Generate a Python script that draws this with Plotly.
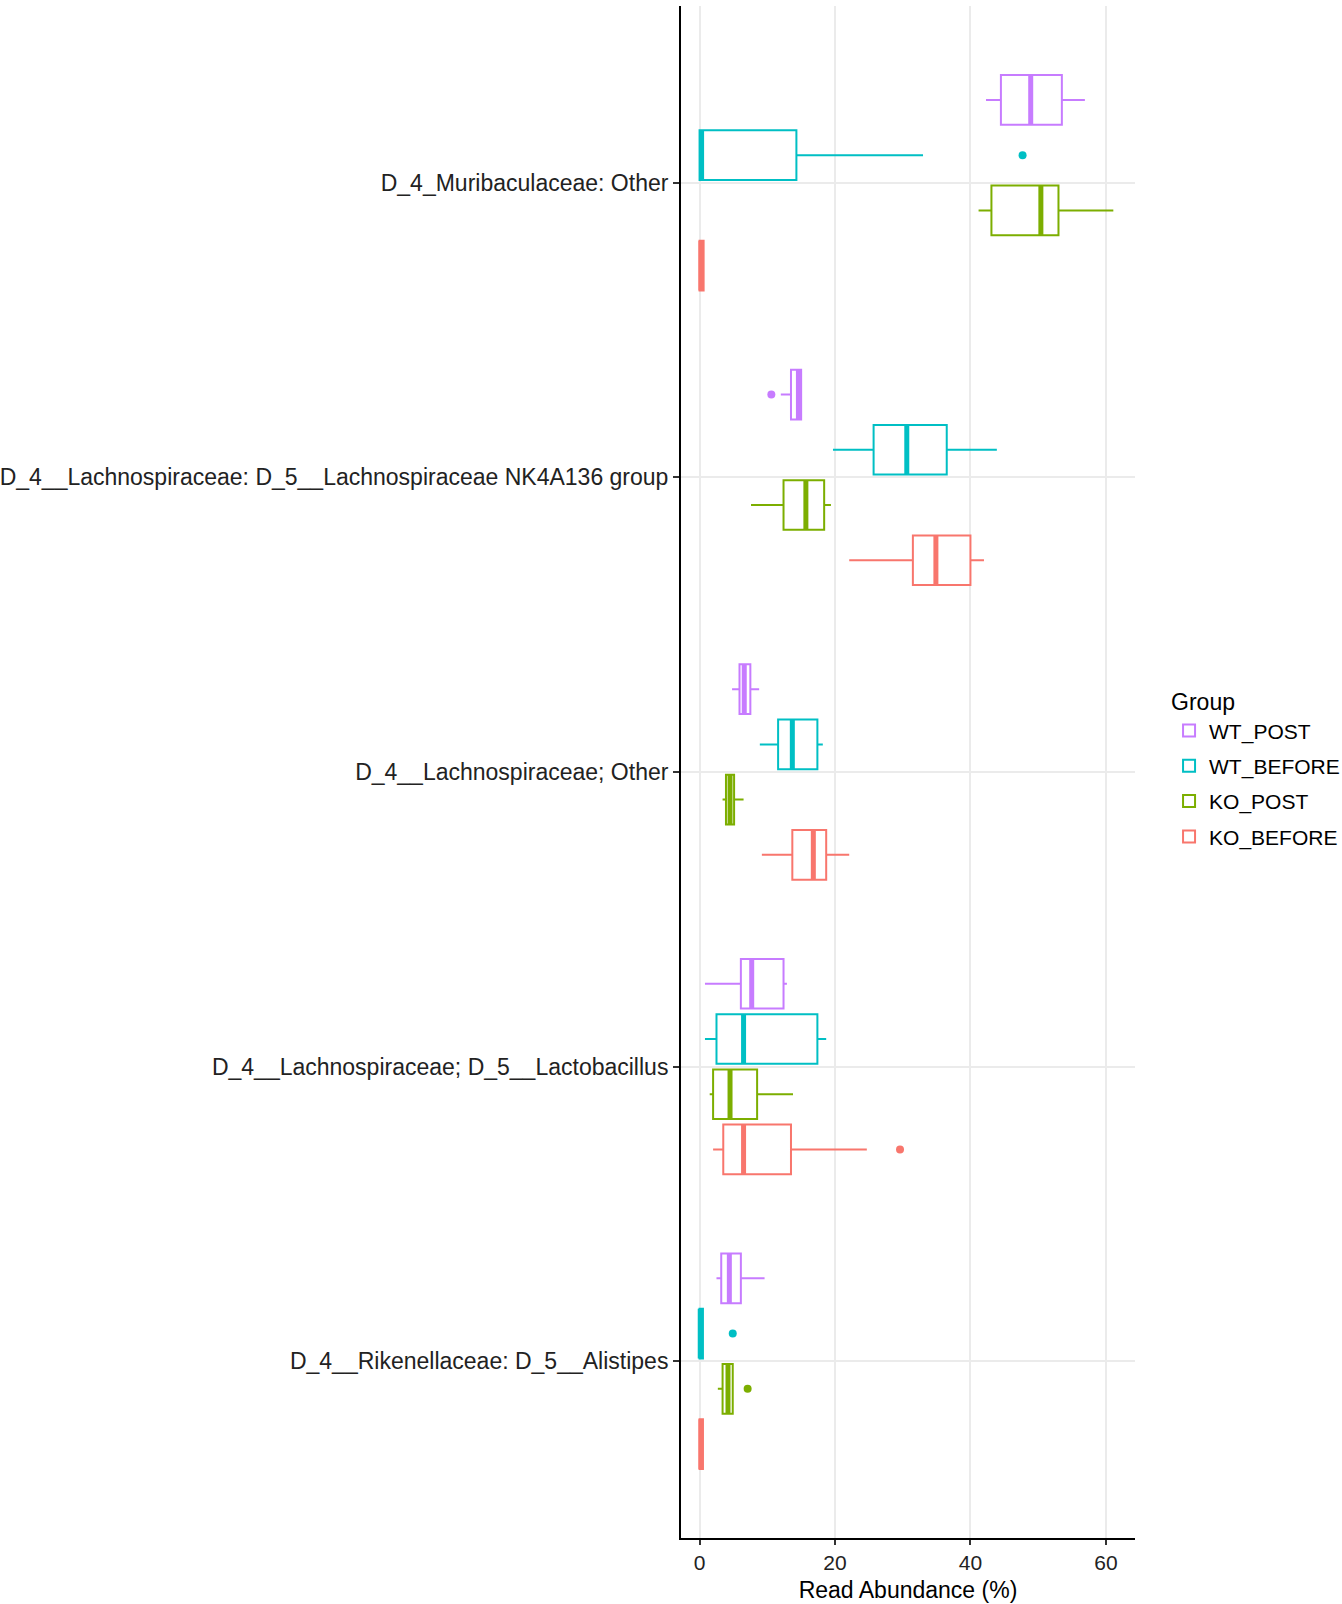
import plotly.graph_objects as go

categories = [
    "D_4_Muribaculaceae: Other",
    "D_4__Lachnospiraceae: D_5__Lachnospiraceae NK4A136 group",
    "D_4__Lachnospiraceae; Other",
    "D_4__Lachnospiraceae; D_5__Lactobacillus",
    "D_4__Rikenellaceae: D_5__Alistipes",
]
groups = ["WT_POST", "WT_BEFORE", "KO_POST", "KO_BEFORE"]
colors = ["#C77CFF", "#00BFC4", "#7CAE00", "#F8766D"]

# per-group statistics, in category order
wt_post_low = [42.3, 12.0, 4.8, 0.8, 2.5]
wt_post_q1 = [44.5, 13.5, 5.9, 6.1, 3.2]
wt_post_med = [48.9, 14.6, 6.6, 7.7, 4.4]
wt_post_q3 = [53.5, 15.0, 7.5, 12.4, 6.1]
wt_post_high = [56.9, 15.0, 8.8, 12.9, 9.6]
wt_post_out = [(1, 10.6)]

wt_before_low = [0.0, 19.7, 8.9, 0.8, 0.0]
wt_before_q1 = [0.0, 25.7, 11.6, 2.5, 0.0]
wt_before_med = [0.3, 30.6, 13.7, 6.5, 0.1]
wt_before_q3 = [14.3, 36.5, 17.4, 17.4, 0.5]
wt_before_high = [33.0, 43.9, 18.2, 18.7, 0.5]
wt_before_out = [(0, 47.7), (4, 4.9)]

ko_post_low = [41.2, 7.6, 3.4, 1.5, 2.7]
ko_post_q1 = [43.1, 12.4, 3.9, 2.0, 3.4]
ko_post_med = [50.4, 15.7, 4.5, 4.5, 4.2]
ko_post_q3 = [53.0, 18.4, 5.1, 8.5, 4.9]
ko_post_high = [61.1, 19.4, 6.5, 13.8, 4.9]
ko_post_out = [(4, 7.1)]

ko_before_low = [0.0, 22.1, 9.2, 2.0, 0.0]
ko_before_q1 = [0.0, 31.5, 13.7, 3.5, 0.0]
ko_before_med = [0.2, 34.9, 16.8, 6.5, 0.2]
ko_before_q3 = [0.6, 40.0, 18.7, 13.5, 0.5]
ko_before_high = [0.6, 42.0, 22.1, 24.7, 0.5]
ko_before_out = [(3, 29.6)]

stats = [
    (wt_post_low, wt_post_q1, wt_post_med, wt_post_q3, wt_post_high, wt_post_out),
    (wt_before_low, wt_before_q1, wt_before_med, wt_before_q3, wt_before_high, wt_before_out),
    (ko_post_low, ko_post_q1, ko_post_med, ko_post_q3, ko_post_high, ko_post_out),
    (ko_before_low, ko_before_q1, ko_before_med, ko_before_q3, ko_before_high, ko_before_out),
]

n_cat = len(categories)
cat_pos = [n_cat - i for i in range(n_cat)]  # top category highest
dodge = 0.75 / len(groups)
box_w = dodge * 0.9
offsets = [(1.5 - g) * dodge for g in range(len(groups))]

FONT = "Liberation Sans, Arial, sans-serif"
fig = go.Figure()

for g, (name, col, st) in enumerate(zip(groups, colors, stats)):
    low, q1, med, q3, high, outs = st
    pos = [p + offsets[g] for p in cat_pos]
    fig.add_trace(go.Box(
        name=name, orientation="h", y=pos,
        q1=q1, median=med, q3=q3, lowerfence=low, upperfence=high,
        width=box_w, whiskerwidth=0, boxpoints=False,
        line=dict(color=col, width=2), fillcolor="white",
        legendgroup=name, hoverinfo="skip",
    ))
    # thick median
    mx, my = [], []
    for p, m in zip(pos, med):
        mx += [m, m, None]
        my += [p - box_w / 2, p + box_w / 2, None]
    fig.add_trace(go.Scatter(
        x=mx, y=my, mode="lines", line=dict(color=col, width=5),
        showlegend=False, legendgroup=name, hoverinfo="skip",
    ))
    if outs:
        fig.add_trace(go.Scatter(
            x=[v for _, v in outs], y=[pos[i] for i, _ in outs],
            mode="markers", marker=dict(color=col, size=8),
            showlegend=False, legendgroup=name, hoverinfo="skip",
        ))

fig.update_layout(
    width=1342, height=1604,
    margin=dict(l=681, r=207, t=6, b=66, autoexpand=False),
    paper_bgcolor="white", plot_bgcolor="white",
    font=dict(family=FONT, size=21, color="black"),
    boxmode="overlay",
    showlegend=True,
    legend=dict(
        title=dict(text="Group", font=dict(size=23, color="black")),
        x=1.075, xanchor="left", y=0.502, yanchor="middle",
        font=dict(size=21, color="black"), tracegroupgap=5,
        itemsizing="constant",
    ),
    xaxis=dict(
        range=[-2.74, 64.3], tickvals=[0, 20, 40, 60],
        showgrid=True, gridcolor="#EBEBEB", gridwidth=2,
        zeroline=False, showline=True, linecolor="black", linewidth=2,
        ticks="outside", ticklen=5, tickwidth=2, tickcolor="#333333",
        tickfont=dict(size=21, color="#222222"),
        title=dict(text="Read Abundance (%)", font=dict(size=23, color="black"), standoff=9),
    ),
    yaxis=dict(
        range=[0.4, 5.6], tickvals=cat_pos, ticktext=categories,
        showgrid=True, gridcolor="#EBEBEB", gridwidth=2,
        zeroline=False, showline=True, linecolor="black", linewidth=2,
        ticks="outside", ticklen=6, tickwidth=2, tickcolor="#333333",
        tickfont=dict(size=23, color="#222222"),
    ),
)

fig.write_html(
    "out.html",
    config={"displayModeBar": False},
    post_script="document.body.style.margin='0';document.body.style.overflow='hidden';",
)
